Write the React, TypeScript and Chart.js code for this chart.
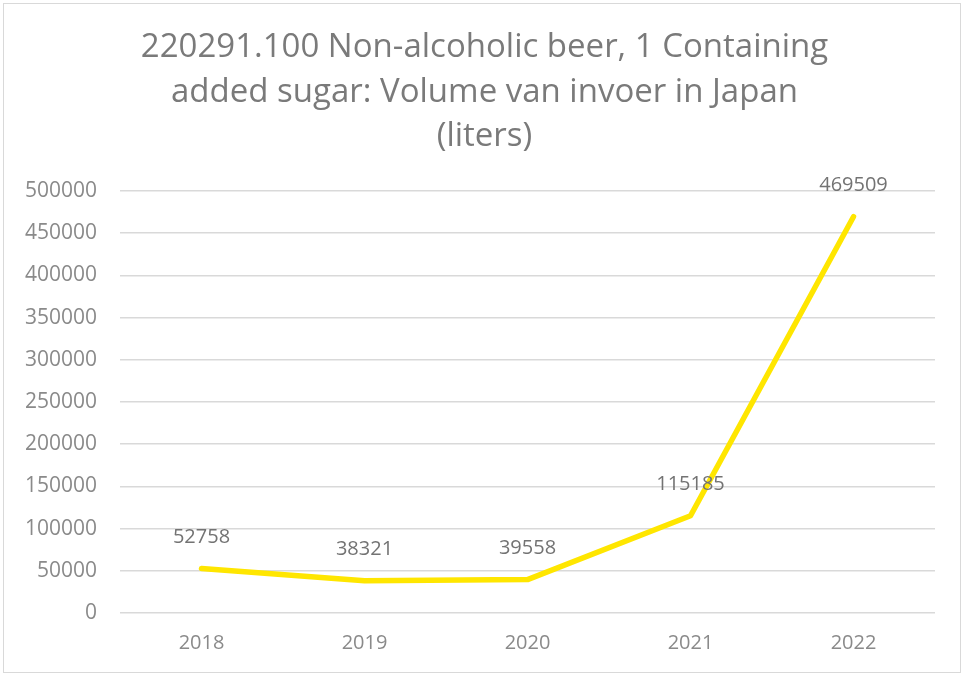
import React, { useEffect, useRef } from "react";
import { Chart, registerables } from "chart.js";

Chart.register(...registerables);

const titleLines = [
  "220291.100 Non-alcoholic beer, 1 Containing",
  "added sugar: Volume van invoer in Japan",
  "(liters)",
];
const years = ["2018", "2019", "2020", "2021", "2022"];
const volumes = [52758, 38321, 39558, 115185, 469509];
const yMin = 0;
const yMax = 500000;
const yStep = 50000;

const FONT = "'Open Sans', 'Noto Sans', sans-serif";

const dataLabelPlugin = {
  id: "dataLabels",
  afterDatasetsDraw(chart: any) {
    const ctx = chart.ctx;
    const meta = chart.getDatasetMeta(0);
    const ds = chart.data.datasets[0];
    ctx.save();
    ctx.font = `20px ${FONT}`;
    ctx.fillStyle = "#737373";
    ctx.textAlign = "center";
    ctx.textBaseline = "middle";
    meta.data.forEach((pt: any, i: number) => {
      ctx.fillText(String(ds.data[i]), pt.x, pt.y - 31);
    });
    ctx.restore();
  },
};

const titlePlugin = {
  id: "centeredTitle",
  afterDraw(chart: any) {
    const ctx = chart.ctx;
    ctx.save();
    ctx.font = `33px ${FONT}`;
    ctx.fillStyle = "#7a7a7a";
    ctx.textAlign = "center";
    ctx.textBaseline = "middle";
    titleLines.forEach((line, i) => {
      ctx.fillText(line, chart.width / 2 + 3, 48 + i * 44.5);
    });
    ctx.restore();
  },
};

export default function App() {
  const ref = useRef<HTMLCanvasElement>(null);
  useEffect(() => {
    document.body.style.margin = "0";
    const chart = new Chart(ref.current as HTMLCanvasElement, {
      type: "line",
      data: {
        labels: years,
        datasets: [
          {
            data: volumes,
            borderColor: "#FFE600",
            backgroundColor: "#FFE600",
            borderWidth: 5.5,
            pointRadius: 0,
            tension: 0,
            borderCapStyle: "round",
            borderJoinStyle: "round",
          },
        ],
      },
      options: {
        responsive: false,
        animation: false,
        devicePixelRatio: 1,
        layout: { padding: { left: 0, right: 28, top: 191, bottom: 0 } },
        plugins: {
          legend: { display: false },
          tooltip: { enabled: false },
          title: { display: false },
        },
        scales: {
          x: {
            offset: true,
            grid: { display: false, drawTicks: false },
            border: { display: false },
            ticks: {
              color: "#8a8a8a",
              font: { family: FONT, size: 20 },
              padding: 18,
            },
            afterFit: (s: any) => {
              s.height = 62;
            },
          },
          y: {
            min: yMin,
            max: yMax,
            grid: { color: "#d9d9d9", lineWidth: 1.5, drawTicks: false },
            border: { display: false },
            ticks: {
              stepSize: yStep,
              color: "#8a8a8a",
              font: { family: FONT, size: 21 },
              padding: 23,
              callback: (v: any) => String(v),
            },
            afterFit: (s: any) => {
              s.width = 120;
            },
          },
        },
      },
      plugins: [dataLabelPlugin, titlePlugin],
    });
    return () => chart.destroy();
  }, []);
  return (
    <div style={{ position: "relative", width: 963, height: 675 }}>
      <canvas ref={ref} width={963} height={675} style={{ display: "block", width: 963, height: 675 }} />
      <div
        style={{
          position: "absolute",
          left: 3,
          top: 3,
          width: 958,
          height: 670,
          border: "1.5px solid #d9d9d9",
          boxSizing: "border-box",
          pointerEvents: "none",
        }}
      />
    </div>
  );
}
